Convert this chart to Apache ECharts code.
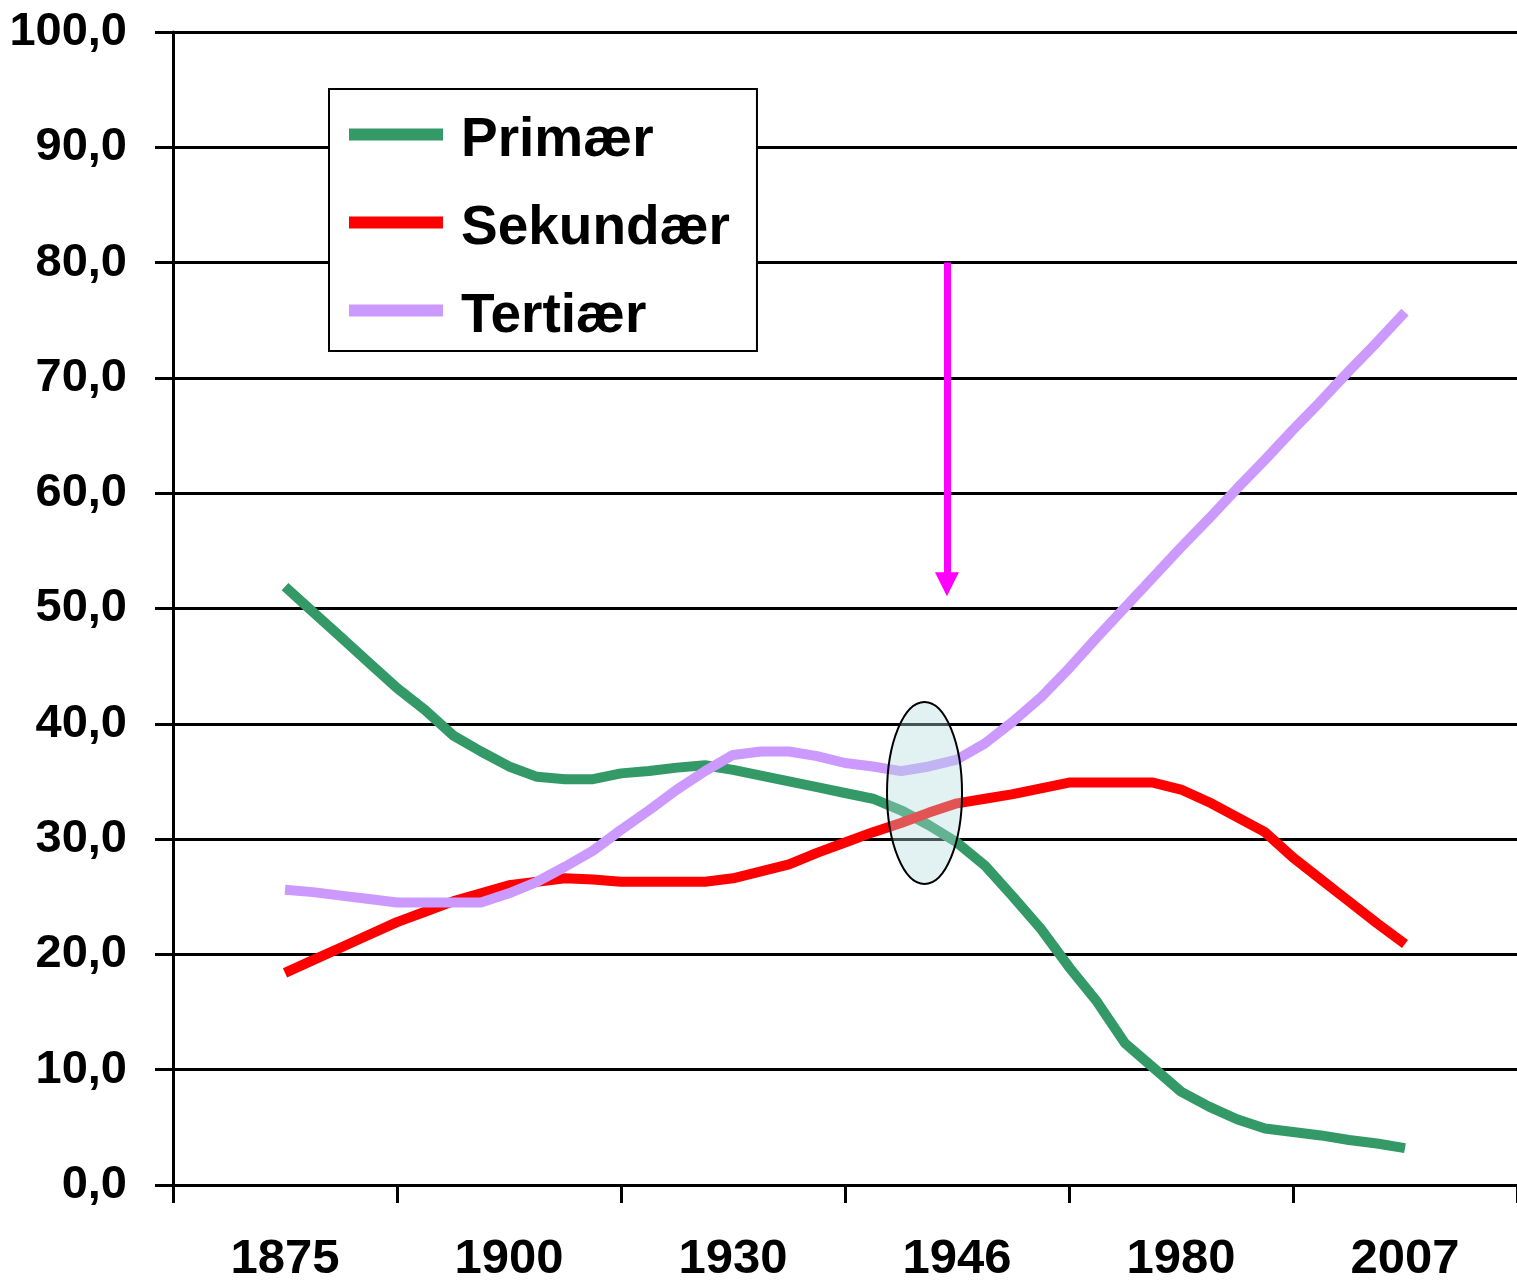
<!DOCTYPE html>
<html>
<head>
<meta charset="utf-8">
<script src="https://cdn.jsdelivr.net/npm/echarts@6/dist/echarts.min.js"></script>
<style>
  html, body { margin: 0; padding: 0; background: #fff; }
  #chart { width: 1517px; height: 1280px; }
</style>
</head>
<body>
<div id="chart"></div>
<script>
// aksens kategorier (årstal)
const years = ['1875', '1900', '1930', '1946', '1980', '2007'];
const seriesNames = ['Primær', 'Sekundær', 'Tertiær'];

// punkter hver 1/8 kategori, fra midten af 1875 til midten af 2007
const firstStep = 4;

const primaer = [
  51.9, 49.7, 47.5, 45.3, 43.1, 41.2, 39.0, 37.6, 36.3, 35.4,
  35.2, 35.2, 35.7, 35.9, 36.2, 36.4, 36.0, 35.5, 35.0, 34.5,
  34.0, 33.5, 32.5, 31.2, 29.7, 27.7, 25.0, 22.2, 18.9, 15.9,
  12.3, 10.2, 8.1, 6.8, 5.7, 4.9, 4.6, 4.3, 3.9, 3.6,
  3.2
];
const sekundaer = [
  18.4, 19.5, 20.6, 21.7, 22.8, 23.7, 24.6, 25.3, 26.0, 26.3,
  26.6, 26.5, 26.3, 26.3, 26.3, 26.3, 26.6, 27.2, 27.8, 28.8,
  29.7, 30.6, 31.4, 32.3, 33.1, 33.5, 33.9, 34.4, 34.9, 34.9,
  34.9, 34.9, 34.3, 33.2, 31.9, 30.6, 28.4, 26.5, 24.6, 22.7,
  20.9
];
const tertiaer = [
  25.6, 25.4, 25.1, 24.8, 24.5, 24.5, 24.5, 24.5, 25.3, 26.3,
  27.6, 29.0, 30.8, 32.5, 34.3, 35.9, 37.3, 37.6, 37.6, 37.2,
  36.6, 36.3, 35.9, 36.3, 36.9, 38.3, 40.2, 42.3, 44.8, 47.5,
  50.1, 52.7, 55.3, 57.8, 60.4, 62.9, 65.5, 68.0, 70.6, 73.1,
  75.7
];

const colors = ['#339966', '#ff0000', '#cc99ff'];
const font = 'Liberation Sans, Arial, sans-serif';

const toPoints = arr => arr.map((v, i) => [firstStep + i, v]);

const chart = echarts.init(document.getElementById('chart'));

const option = {
  backgroundColor: '#fff',
  animation: false,
  grid: { left: 173, top: 32, right: 0, bottom: 95, outerBoundsMode: 'none', containLabel: false },
  legend: {
    data: seriesNames,
    orient: 'vertical',
    left: 329,
    top: 89,
    padding: [12, 27, 7, 20],
    itemWidth: 94,
    itemHeight: 12,
    itemGap: 21,
    icon: 'rect',
    backgroundColor: '#fff',
    borderColor: '#000',
    borderWidth: 2,
    formatter: name => '{t|' + name + '}',
    textStyle: {
      fontFamily: font, fontWeight: 'bold', fontSize: 55,
      color: '#000', padding: [0, 0, 0, 13],
      rich: {
        t: {
          fontFamily: font, fontWeight: 'bold', fontSize: 55, color: '#000',
          lineHeight: 60, padding: [12, 0, 0, 0]
        }
      }
    }
  },
  xAxis: [
    {
      type: 'category',
      data: years,
      boundaryGap: true,
      axisLine: { lineStyle: { color: '#000', width: 3 } },
      axisTick: { show: true, length: 18, interval: 0, lineStyle: { color: '#000', width: 3 } },
      axisLabel: {
        fontFamily: font, fontWeight: 'bold', fontSize: 49, color: '#000',
        margin: 50, interval: 0
      },
      splitLine: { show: false }
    },
    { type: 'value', min: 0, max: 48, show: false }
  ],
  yAxis: {
    type: 'value',
    min: 0,
    max: 100,
    interval: 10,
    axisLine: { show: true, lineStyle: { color: '#000', width: 3 } },
    axisTick: { show: true, length: 18, lineStyle: { color: '#000', width: 3 } },
    axisLabel: {
      fontFamily: font, fontWeight: 'bold', fontSize: 47, color: '#000',
      margin: 46,
      formatter: v => v.toFixed(1).replace('.', ',')
    },
    splitLine: { show: true, lineStyle: { color: '#000', width: 3 } }
  },
  series: [
    {
      name: seriesNames[0], type: 'line', xAxisIndex: 1,
      data: toPoints(primaer), symbol: 'none',
      itemStyle: { color: colors[0] }, lineStyle: { color: colors[0], width: 10 },
      markLine: {
        silent: true,
        symbol: ['none', 'triangle'],
        symbolSize: [24, 24],
        label: { show: false },
        lineStyle: { color: '#ff00ff', width: 7, type: 'solid' },
        data: [[{ coord: [27.64, 80] }, { coord: [27.64, 52.1] }]]
      }
    },
    {
      name: seriesNames[1], type: 'line', xAxisIndex: 1,
      data: toPoints(sekundaer), symbol: 'none',
      itemStyle: { color: colors[1] }, lineStyle: { color: colors[1], width: 10 }
    },
    {
      name: seriesNames[2], type: 'line', xAxisIndex: 1,
      data: toPoints(tertiaer), symbol: 'none',
      itemStyle: { color: colors[2] }, lineStyle: { color: colors[2], width: 10 }
    }
  ]
};

chart.setOption(option);

// ellipsen om skæringspunktet
const c = chart.convertToPixel({ xAxisIndex: 1, yAxisIndex: 0 }, [26.84, 34.0]);
chart.setOption({
  graphic: [{
    type: 'ellipse',
    z: 100,
    shape: { cx: c[0], cy: c[1], rx: 37.5, ry: 91 },
    style: { fill: 'rgba(180,220,220,0.38)', stroke: '#000', lineWidth: 2 }
  }]
});
</script>
</body>
</html>
